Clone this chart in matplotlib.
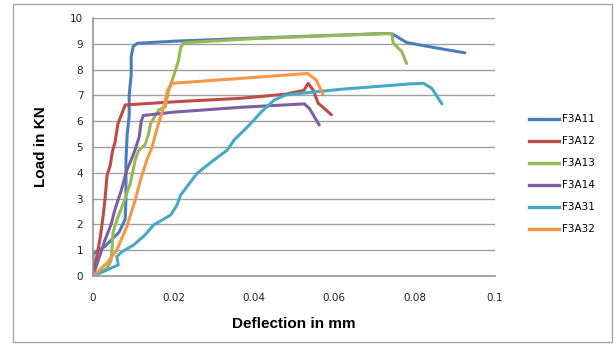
import matplotlib
matplotlib.use("Agg")
import matplotlib.pyplot as plt
from matplotlib.patches import Rectangle
from matplotlib.lines import Line2D

names = ["F3A11", "F3A12", "F3A13", "F3A14", "F3A31", "F3A32"]
colors = ["#4A7EBB", "#BE4B48", "#98B954", "#7D60A0", "#46AAC5", "#F79646"]

f3a11_x = [0, 0, 0.003, 0.0065, 0.008, 0.0082, 0.0082, 0.0085, 0.009, 0.009, 0.0095, 0.0095, 0.010, 0.011, 0.02, 0.04, 0.06, 0.073, 0.0745, 0.078, 0.085, 0.0925]
f3a11_y = [0, 0.85, 1.15, 1.7, 2.2, 3.0, 4.5, 5.5, 6.2, 7.0, 7.8, 8.5, 8.9, 9.02, 9.1, 9.22, 9.33, 9.4, 9.38, 9.05, 8.85, 8.65]

f3a12_x = [0, 0.001, 0.0018, 0.0025, 0.003, 0.0035, 0.0043, 0.0048, 0.0055, 0.0062, 0.0072, 0.008, 0.02, 0.037, 0.048, 0.0525, 0.0535, 0.0548, 0.056, 0.0593]
f3a12_y = [0, 0.8, 1.5, 2.3, 3.0, 3.9, 4.3, 4.8, 5.2, 5.9, 6.3, 6.63, 6.75, 6.89, 7.05, 7.2, 7.47, 7.2, 6.7, 6.25]

f3a13_x = [0, 0.0035, 0.0045, 0.0048, 0.005, 0.006, 0.0075, 0.0093, 0.0105, 0.0113, 0.013, 0.0138, 0.0143, 0.0163, 0.018, 0.0188, 0.02, 0.0213, 0.0218, 0.0226, 0.04, 0.06, 0.0743, 0.0747, 0.0768, 0.078]
f3a13_y = [0, 0.3, 0.6, 1.2, 1.7, 2.2, 2.8, 3.6, 4.5, 4.85, 5.1, 5.5, 5.9, 6.43, 6.56, 7.2, 7.72, 8.37, 8.85, 9.04, 9.2, 9.32, 9.4, 9.02, 8.7, 8.24]

f3a14_x = [0, 0.0015, 0.003, 0.0045, 0.0055, 0.007, 0.0084, 0.0095, 0.0105, 0.0115, 0.012, 0.0125, 0.02, 0.0368, 0.05, 0.0526, 0.0538, 0.0563]
f3a14_y = [0, 0.7, 1.4, 2.0, 2.6, 3.3, 4.1, 4.5, 4.9, 5.4, 6.0, 6.22, 6.35, 6.54, 6.65, 6.67, 6.5, 5.85]

f3a31_x = [0, 0.0034, 0.0063, 0.0059, 0.0072, 0.0101, 0.013, 0.0151, 0.0193, 0.0209, 0.0218, 0.0259, 0.0301, 0.0334, 0.0351, 0.0368, 0.0393, 0.0418, 0.0451, 0.048, 0.0618, 0.0784, 0.0822, 0.0843, 0.0868]
f3a31_y = [0, 0.23, 0.43, 0.75, 0.94, 1.2, 1.6, 1.98, 2.36, 2.75, 3.14, 3.98, 4.5, 4.88, 5.27, 5.53, 5.92, 6.35, 6.82, 7.02, 7.24, 7.44, 7.47, 7.27, 6.67]

f3a32_x = [0, 0.0034, 0.0059, 0.0084, 0.0105, 0.0118, 0.0134, 0.0147, 0.0163, 0.0176, 0.0186, 0.0197, 0.0368, 0.0534, 0.0555, 0.0572]
f3a32_y = [0, 0.49, 1.0, 1.91, 2.94, 3.72, 4.5, 5.01, 5.92, 6.56, 7.21, 7.47, 7.66, 7.85, 7.6, 7.05]

xs = [f3a11_x, f3a12_x, f3a13_x, f3a14_x, f3a31_x, f3a32_x]
ys = [f3a11_y, f3a12_y, f3a13_y, f3a14_y, f3a31_y, f3a32_y]

x_ticks = [0, 0.02, 0.04, 0.06, 0.08, 0.1]
x_tick_labels = ["0", "0.02", "0.04", "0.06", "0.08", "0.1"]
y_ticks = list(range(0, 11))

W, H = 614, 344
fig = plt.figure(figsize=(W / 100, H / 100), dpi=100)
fig.patches.append(Rectangle((13 / W, 2 / H), 599 / W, 338 / H, transform=fig.transFigure,
                             fill=False, edgecolor="#A6A6A6", linewidth=1.0))
ax = fig.add_axes([93 / W, 1 - 276 / H, 402 / W, 258 / H])

for x, y, c, n in zip(xs, ys, colors, names):
    ax.plot(x, y, color=c, linewidth=2.2, label=n, solid_joinstyle="round", solid_capstyle="round")

ax.set_xlim(0, 0.1)
ax.set_ylim(0, 10)
ax.set_xticks(x_ticks)
ax.set_xticklabels(x_tick_labels)
ax.set_yticks(y_ticks)
ax.yaxis.grid(True, color="#A0A0A0", linewidth=1.0)
ax.set_axisbelow(True)
for s in ["top", "right"]:
    ax.spines[s].set_visible(False)
for s in ["left", "bottom"]:
    ax.spines[s].set_color("#969696")
    ax.spines[s].set_linewidth(1.2)
ax.tick_params(axis="both", length=0, labelsize=7.5, colors="#222222")
ax.tick_params(axis="x", pad=12)
ax.tick_params(axis="y", pad=7)
for lab in ax.get_xticklabels() + ax.get_yticklabels():
    lab.set_family("DejaVu Sans")

ax.set_xlabel("Deflection in mm", fontsize=11, fontweight="bold", family="Liberation Sans", labelpad=10)
ax.set_ylabel("Load in KN", fontsize=11, fontweight="bold", family="Liberation Sans", labelpad=16)

handles = [Line2D([0], [0], color=c, linewidth=2.4) for c in colors]
fig.legend(handles, names, loc="upper left", bbox_to_anchor=(520 / W, 1 - 105 / H),
           frameon=False, handlelength=2.8, handletextpad=0.3,
           labelspacing=1.15, prop={"family": "DejaVu Sans", "size": 7.5})

fig.savefig("out.png", dpi=100)
